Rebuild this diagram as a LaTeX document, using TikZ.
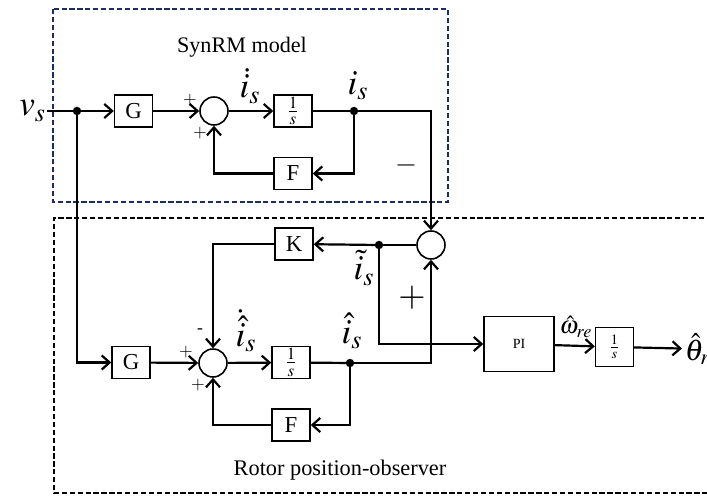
\documentclass[tikz,border=0pt]{standalone}
\usepackage{mathptmx}
\usepackage{fontspec}
\setmainfont{Liberation Serif}
\usetikzlibrary{arrows.meta,positioning,calc}
\definecolor{modelcol}{RGB}{30,45,95}

\begin{document}
\begin{tikzpicture}[x=0.02cm,y=-0.02cm,>={Straight Barb[length=4.5pt,width=8pt]},line width=1.25pt,
  blk/.style={draw,line width=0.8pt,minimum width=0.76cm,minimum height=0.64cm,inner sep=0pt,font=\fontsize{13}{15}\selectfont},
  sumc/.style={draw,circle,line width=0.9pt,minimum size=0.56cm,inner sep=0pt},
  jdot/.style={circle,fill,inner sep=0pt,minimum size=4.8pt},
  sgn/.style={font=\fontsize{10}{12}\selectfont,inner sep=0pt},
  sig/.style={font=\fontsize{20}{24}\selectfont,inner sep=0pt},
  frame/.style={line width=1pt,dash pattern=on 3pt off 1.5pt}]
  \useasboundingbox (0,0) rectangle (707,496);
  \clip (0,0) rectangle (707,496);

  % frames
  \draw[frame,modelcol] (53,9) rectangle (448,202);
  \draw[frame] (712,218) -- (54,218) -- (54,493) -- (712,493);
  \node[font=\fontsize{12.6}{15}\selectfont] (mtitle) at (242,47) {SynRM model};
  \node[font=\fontsize{12.7}{15}\selectfont] (otitle) at (340,470) {Rotor position-observer};

  % SynRM model
  \node[sig,anchor=east] (vs) at (47,111) {$v_s$};
  \coordinate (j1) at (77,111);
  \node[blk] (G1) at (133.5,111) {G};
  \node[sumc] (S1) at (214,111) {};
  \node[blk] (I1) at (293,111) {$\frac{1}{s}$};
  \coordinate (j2) at (354,111);
  \node[blk] (F1) at (293,173.5) {F};

  \draw (vs.east) -- (j1);
  \draw[->] (j1) -- (G1);
  \draw[->] (G1) -- (S1);
  \draw[->] (S1) -- (I1);
  \draw (I1) -- (j2);
  \draw[->] (j2) |- (F1);
  \draw[->] (F1) -| (S1);
  \node[jdot] at (j1) {};
  \node[jdot] at (j2) {};

  \node[sgn] at (190,100) {$+$};
  \node[sgn] at (200,133) {$+$};
  \node[sig] (didot) at (250,86) {$\dot{i}_s$};
  \node[sig] (iis) at (358,86) {$i_s$};
  \node[font=\fontsize{16}{18}\selectfont] (minus) at (406,165) {$-$};

  % observer
  \node[sumc] (S3) at (431,245) {};
  \coordinate (j3) at (379,245);
  \node[blk] (K) at (294,244) {K};
  \node[blk] (G2) at (131,362.5) {G};
  \node[sumc] (S2) at (213,363) {};
  \node[blk] (I2) at (291,362.5) {$\frac{1}{s}$};
  \coordinate (j4) at (350,363);
  \node[blk] (F2) at (291,425) {F};
  \node[draw,line width=0.8pt,minimum width=1.4cm,minimum height=1.1cm,font=\fontsize{8}{10}\selectfont] (PI) at (519,344) {PI};
  \node[blk,minimum height=0.78cm,font=\fontsize{11}{13}\selectfont] (I3) at (614.5,347) {$\frac{1}{s}$};
  \node[font=\fontsize{17}{19}\selectfont,anchor=west,inner sep=1pt] (theta) at (682,349) {$\hat{\theta}_{re}$};

  \draw[->] (j2) -| (S3);
  \draw (S3) -- (j3);
  \draw[->] (j3) -- (K);
  \draw[->] (K) -| (S2);
  \draw[->] (j1) |- (G2);
  \draw[->] (G2) -- (S2);
  \draw[->] (S2) -- (I2);
  \draw (I2) -- (j4);
  \draw[->] (j4) -| (S3);
  \draw[->] (j4) |- (F2);
  \draw[->] (F2) -| (S2);
  \draw[->] (j3) |- (PI);
  \draw[->] (PI) -- (I3);
  \draw[->] (I3) -- (theta);
  \node[jdot] at (j3) {};
  \node[jdot] at (j4) {};

  \node[sgn] at (200,331) {-};
  \node[sgn] at (186,352) {$+$};
  \node[sgn] at (198,385) {$+$};
  \node[sig] (ihdot) at (246,331) {$\dot{\hat{i}}_s$};
  \node[sig] (ihat) at (352,331) {$\hat{i}_s$};
  \node[sig] (itil) at (364,268) {$\tilde{i}_s$};
  \node[font=\fontsize{20}{24}\selectfont] (plus) at (412,298) {$+$};
  \node[font=\fontsize{14}{16}\selectfont] (omega) at (576,327) {$\hat{\omega}_{re}$};
\end{tikzpicture}
\end{document}
